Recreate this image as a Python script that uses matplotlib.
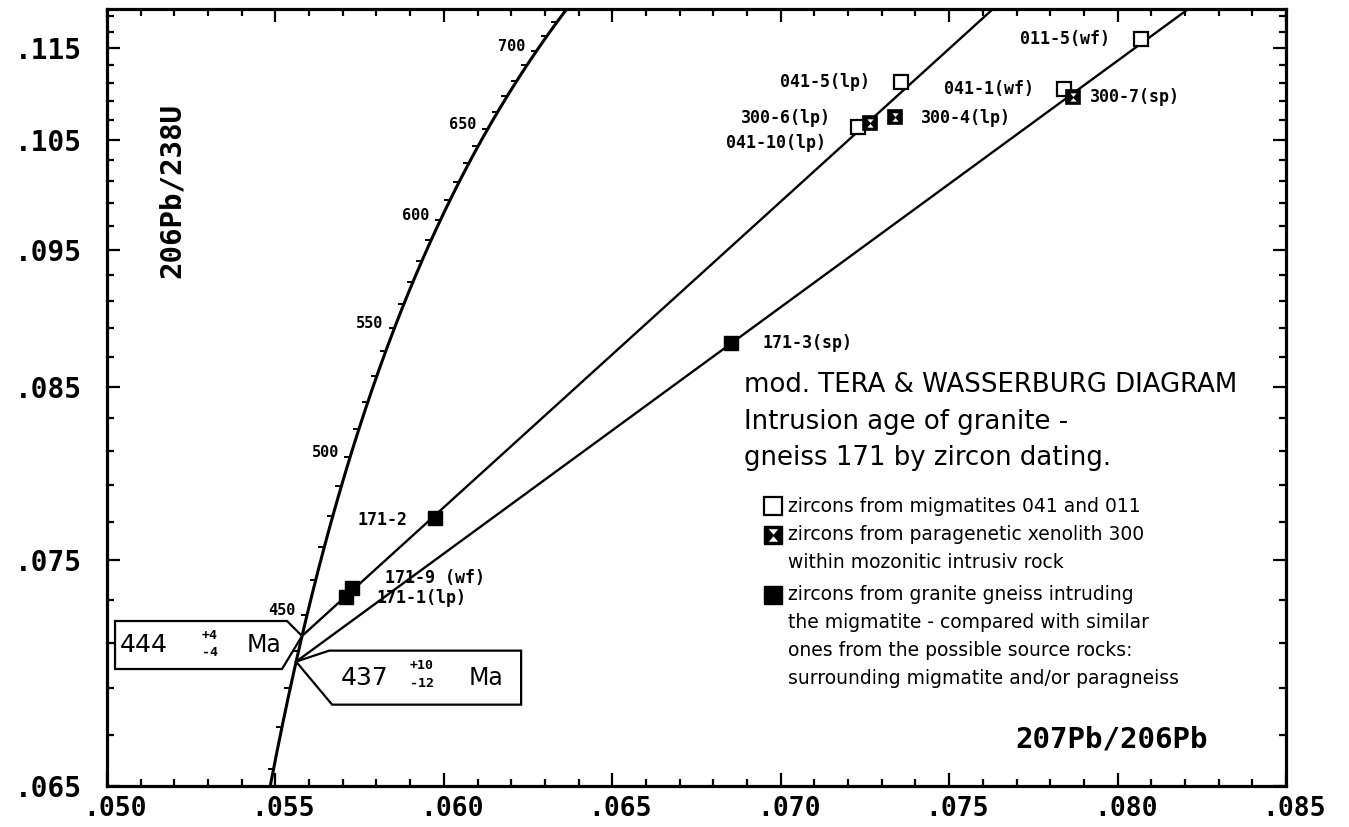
import matplotlib
matplotlib.use("Agg")
import matplotlib.pyplot as plt
import numpy as np
from matplotlib import transforms
from matplotlib.patches import Polygon
from matplotlib.path import Path

# decay constants (1/yr) and present-day 238U/235U
L238 = 1.55125e-10
L235 = 9.8485e-10
U_RATIO = 137.88

# concordia: small tick every 10 Ma, number every 50 Ma
tick_ages = list(range(410, 740, 10))
label_ages = [450, 500, 550, 600, 650, 700]

# lower intercepts (Ma) with errors, and where each discordia leaves the top
intercept_ages = [444, 437]
intercept_err = [("+4", "-4"), ("+10", "-12")]
line_end_x = [0.0763, 0.0821]
line_end_y = [0.1199, 0.1199]

# zircons: 207Pb/206Pb (x) and 206Pb/238U (y)
mig_names = ["011-5(wf)", "041-5(lp)", "041-1(wf)", "041-10(lp)"]
mig_x = [0.08070, 0.07357, 0.07841, 0.07229]
mig_y = [0.11608, 0.11105, 0.11028, 0.10625]

xen_names = ["300-7(sp)", "300-4(lp)", "300-6(lp)"]
xen_x = [0.07868, 0.07339, 0.07265]
xen_y = [0.10940, 0.10727, 0.10666]

gra_names = ["171-2", "171-9 (wf)", "171-1(lp)", "171-3(sp)"]
gra_x = [0.05974, 0.05727, 0.05709, 0.06852]
gra_y = [0.07718, 0.07358, 0.07314, 0.08795]

x_major = [0.050, 0.055, 0.060, 0.065, 0.070, 0.075, 0.080, 0.085]
y_major = [0.065, 0.075, 0.085, 0.095, 0.105, 0.115]

MONO = "DejaVu Sans Mono"
SANS = "DejaVu Sans"
W, H = 1349, 827
AX_L, AX_R, AX_T, AX_B = 107, 1286, 9, 786

# label offsets in pixels (dx, dy up, ha)
LABEL_POS = {
    "011-5(wf)": (-31, 0, "right"),
    "041-5(lp)": (-31, 0, "right"),
    "041-1(wf)": (-30, 0, "right"),
    "041-10(lp)": (-32, -16, "right"),
    "300-7(sp)": (17, 0, "left"),
    "300-4(lp)": (26, -1, "left"),
    "300-6(lp)": (-39, 5, "right"),
    "171-2": (-28, -2, "right"),
    "171-9 (wf)": (33, 10, "left"),
    "171-1(lp)": (31, -1, "left"),
    "171-3(sp)": (32, 0, "left"),
}


def concordia(t_ma):
    t = np.asarray(t_ma, dtype=float) * 1e6
    r68 = np.expm1(L238 * t)
    r75 = np.expm1(L235 * t)
    return r75 / r68 / U_RATIO, r68


def frac(px, py):
    # pixel position on the canvas -> axes fraction
    return (px - AX_L) / (AX_R - AX_L), (AX_B - py) / (AX_B - AX_T)


def _fwd(y):
    with np.errstate(divide="ignore", invalid="ignore"):
        return -1.0 / np.asarray(y, dtype=float)


fig = plt.figure(figsize=(W / 100, H / 100), dpi=100)
ax = fig.add_axes([AX_L / W, 1 - AX_B / H, (AX_R - AX_L) / W, (AX_B - AX_T) / H])
ax.set_yscale("function", functions=(_fwd, _fwd))
ax.set_xlim(0.050, 0.085)
ax.set_ylim(0.065, 0.1199)

# axes, ticks
for sp in ax.spines.values():
    sp.set_linewidth(2.3)
ax.set_xticks(x_major)
ax.set_xticks(np.arange(0.050, 0.0851, 0.001), minor=True)
ax.set_yticks(y_major)
ax.set_yticks(np.arange(0.065, 0.1199, 0.002), minor=True)
ax.set_xticklabels([f"{v:.3f}"[1:] for v in x_major], fontfamily=MONO,
                   fontweight="bold", fontsize=19)
ax.set_yticklabels([f"{v:.3f}"[1:] for v in y_major], fontfamily=MONO,
                   fontweight="bold", fontsize=20)
ax.tick_params(which="both", direction="in", top=True, right=True, width=1.6)
ax.tick_params(which="major", length=9.5)
ax.tick_params(which="minor", length=5)
ax.tick_params(axis="x", pad=7)
ax.tick_params(axis="y", pad=18)
shift = transforms.ScaledTranslation(0.08, 0, fig.dpi_scale_trans)
for lbl in ax.get_xticklabels():
    lbl.set_transform(lbl.get_transform() + shift)

# concordia with age ticks
cx, cy = concordia(np.arange(400, 745, 1))
ax.plot(cx, cy, color="black", lw=2.2, zorder=2)
tick_marker = Path([(-1, 0), (0, 0)], [Path.MOVETO, Path.LINETO])
tx, ty = concordia(tick_ages)
ax.plot(tx, ty, ls="none", marker=tick_marker, ms=9, mec="black", mew=1.4,
        zorder=2)
for age in label_ages:
    px, py = concordia(age)
    ax.annotate(str(age), (px, py), xytext=(-8, 3), textcoords="offset points",
                ha="right", va="center", fontfamily=MONO, fontweight="bold",
                fontsize=11)

# discordia lines from the lower intercepts
for age, ex, ey in zip(intercept_ages, line_end_x, line_end_y):
    x0, y0 = concordia(age)
    ax.plot([x0, ex], [y0, ey], color="black", lw=1.7, zorder=2)

# intercept age boxes, drawn in pixels around the intercept point
BOXES = [
    dict(verts=[(0, 0), (-15, 15), (-187, 15), (-187, -33), (-20, -33)],
         age=(-182, -9, "left"), up=(-92, 0), lo=(-92, -17), ma=(-38, -9)),
    dict(verts=[(0, 0), (33, 11), (225, 11), (225, -43), (36, -43)],
         age=(45, -16, "left"), up=(126, -4), lo=(126, -22), ma=(190, -16)),
]
for age, err, box in zip(intercept_ages, intercept_err, BOXES):
    x0, y0 = concordia(age)
    tr = (transforms.Affine2D().scale(1 / 100) + fig.dpi_scale_trans
          + transforms.ScaledTranslation(x0, y0, ax.transData))
    ax.add_patch(Polygon(box["verts"], closed=True, fc="white", ec="black",
                         lw=1.6, transform=tr, zorder=5, clip_on=False))
    ax_, ay_, aha = box["age"]
    ax.text(ax_, ay_, str(age), transform=tr, ha=aha, va="center",
            fontfamily=SANS, fontsize=18, zorder=6)
    ax.text(*box["up"], err[0], transform=tr, ha="center", va="center",
            fontfamily=MONO, fontweight="bold", fontsize=9.5, zorder=6)
    ax.text(*box["lo"], err[1], transform=tr, ha="center", va="center",
            fontfamily=MONO, fontweight="bold", fontsize=9.5, zorder=6)
    ax.text(*box["ma"], "Ma", transform=tr, ha="center", va="center",
            fontfamily=SANS, fontsize=17, zorder=6)

# sample points
hourglass = Path(
    [(-0.6, 0.8), (0.6, 0.8), (0, 0.1), (-0.6, 0.8),
     (-0.6, -0.8), (0.6, -0.8), (0, -0.1), (-0.6, -0.8)],
    [Path.MOVETO, Path.LINETO, Path.LINETO, Path.CLOSEPOLY] * 2)

ax.plot(mig_x, mig_y, ls="none", marker="s", ms=9.5, mfc="white", mec="black",
        mew=1.6, zorder=4)
ax.plot(xen_x, xen_y, ls="none", marker="s", ms=9.5, mfc="black", mec="black",
        mew=1.2, zorder=4)
ax.plot(xen_x, xen_y, ls="none", marker=hourglass, ms=6, mfc="white",
        mec="none", zorder=4)
ax.plot(gra_x, gra_y, ls="none", marker="s", ms=9.5, mfc="black", mec="black",
        zorder=4)

for names, xs, ys in [(mig_names, mig_x, mig_y), (xen_names, xen_x, xen_y),
                      (gra_names, gra_x, gra_y)]:
    for n, x, y in zip(names, xs, ys):
        dx, dy, ha = LABEL_POS[n]
        ax.annotate(n, (x, y), xytext=(dx * 0.72, dy * 0.72),
                    textcoords="offset points", ha=ha, va="center",
                    fontfamily=MONO, fontweight="bold", fontsize=12)

# axis titles
ax.text(*frac(1208, 740), "207Pb/206Pb", transform=ax.transAxes, ha="right",
        va="center", fontfamily=MONO, fontweight="bold", fontsize=21)
ax.text(*frac(172, 190), "206Pb/238U", transform=ax.transAxes, rotation=90,
        ha="center", va="center", fontfamily=MONO, fontweight="bold",
        fontsize=21)

# diagram title
title_lines = ["mod. TERA & WASSERBURG DIAGRAM", "Intrusion age of granite -",
               "gneiss 171 by zircon dating."]
for line, py in zip(title_lines, [385, 422, 458]):
    ax.text(*frac(744, py), line, transform=ax.transAxes, ha="left",
            va="center", fontfamily=SANS, fontsize=18.7)

# key
legend_lines = ["zircons from migmatites 041 and 011",
                "zircons from paragenetic xenolith 300",
                "within mozonitic intrusiv rock",
                "zircons from granite gneiss intruding",
                "the migmatite - compared with similar",
                "ones from the possible source rocks:",
                "surrounding migmatite and/or paragneiss"]
for line, py in zip(legend_lines, [506, 535, 563, 595, 623, 651, 679]):
    ax.text(*frac(788, py), line, transform=ax.transAxes, ha="left",
            va="center", fontfamily=SANS, fontsize=13.5)

kx, ky = zip(*[frac(773, 506), frac(773, 535), frac(773, 595)])
ax.plot(kx[0], ky[0], marker="s", ms=13, mfc="white", mec="black", mew=1.6,
        transform=ax.transAxes, clip_on=False)
ax.plot(kx[1], ky[1], marker="s", ms=13, mfc="black", mec="black",
        transform=ax.transAxes, clip_on=False)
ax.plot(kx[1], ky[1], marker=hourglass, ms=9, mfc="white", mec="none",
        transform=ax.transAxes, clip_on=False)
ax.plot(kx[2], ky[2], marker="s", ms=13, mfc="black", mec="black",
        transform=ax.transAxes, clip_on=False)

fig.savefig("out.png", dpi=100, facecolor="white")
